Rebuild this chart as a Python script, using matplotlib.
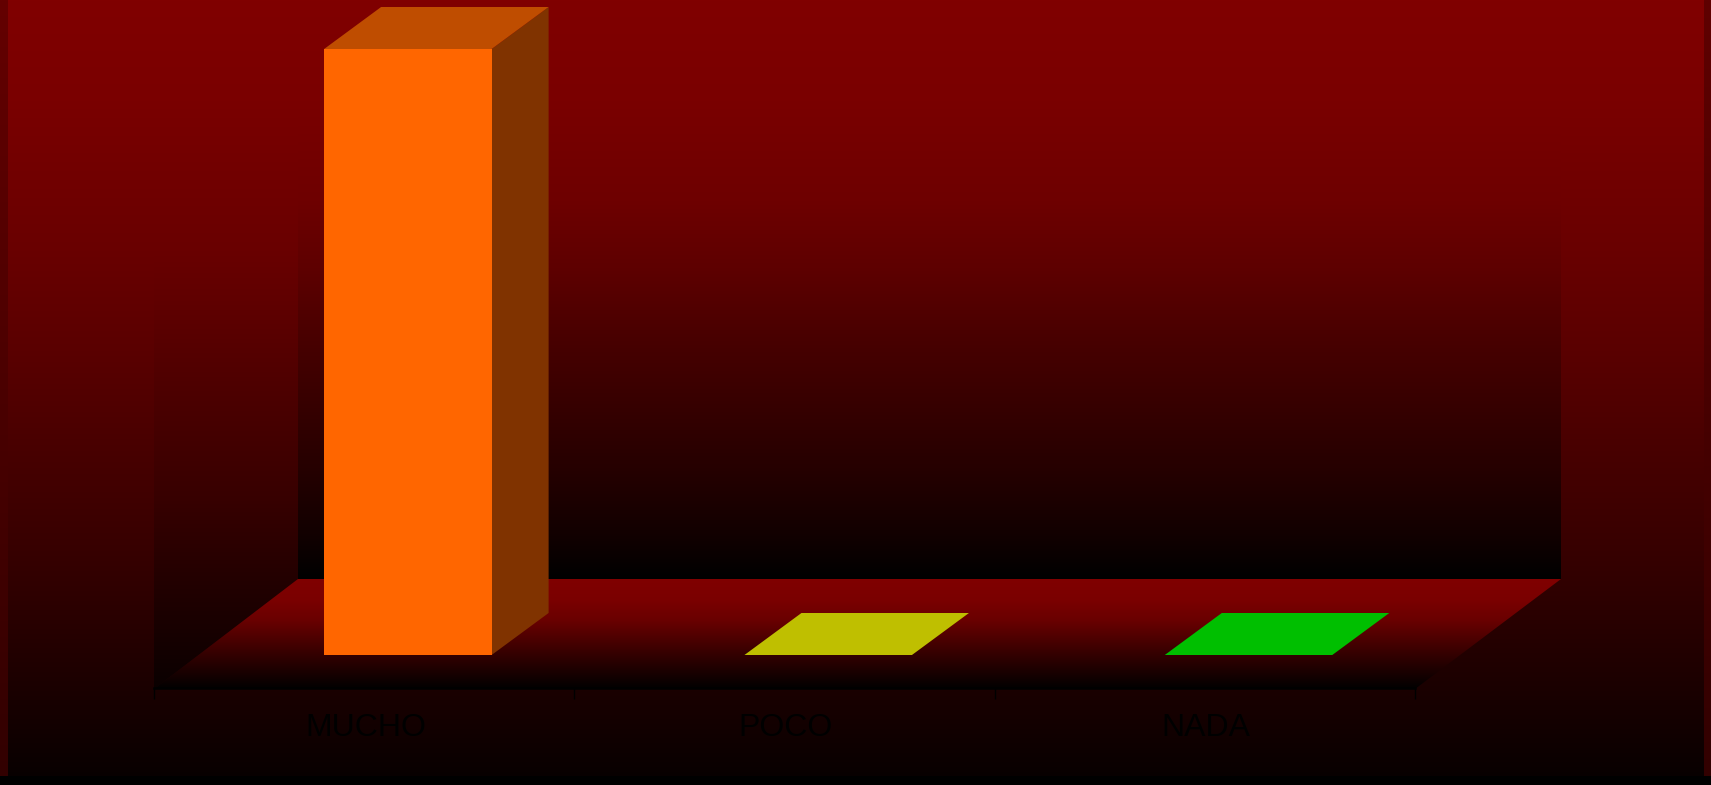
import matplotlib
matplotlib.use("Agg")
import matplotlib.pyplot as plt
import numpy as np
from matplotlib.patches import Polygon

plt.rcParams["font.family"] = ["Liberation Sans", "DejaVu Sans"]

# data
categories = ["MUCHO", "POCO", "NADA"]
values = [100, 0, 0]
front_colors = ["#FF6600", "#FFFF00", "#00FF00"]
top_colors = ["#BF4D00", "#BFBF00", "#00BF00"]
side_colors = ["#803300", "#808000", "#008000"]

W, H = 1711, 785

# plot box in pixels
x0, x1 = 154, 1415
floor_y = 689
depth_dx, depth_dy = 144, -110
back_right = 1561
val_scale = 6.06
bar_w = 167.5
bar_dx, bar_dy = 57, -42


def grad(ax, box, ys, levels, clip=None):
    # vertical red -> black gradient
    yy = np.arange(box[2], box[3])
    red = np.interp(yy, ys, levels) / 255.
    img = np.zeros((len(yy), 1, 3))
    img[:, 0, 0] = red
    im = ax.imshow(img, extent=(box[0], box[1], box[3], box[2]),
                   aspect="auto", interpolation="nearest", zorder=1)
    if clip is not None:
        p = Polygon(clip, transform=ax.transData, fc="none", ec="none")
        ax.add_patch(p)
        im.set_clip_path(p)
    return im


fig = plt.figure(figsize=(W / 100, H / 100), dpi=100)
ax = fig.add_axes([0, 0, 1, 1])
ax.axis("off")

# background, edge strips, walls, floor
back_y = floor_y + depth_dy
bg_y = [0, 100, 250, 350, 450, 550, 600, 776]
bg_r = [128, 122, 105, 90, 72, 55, 45, 8]
grad(ax, (0, 8, 0, H), [0, 776], [100, 50])
grad(ax, (1704, W, 0, H), [0, 776], [95, 50])
grad(ax, (8, 1704, 0, 776), bg_y, bg_r)
grad(ax, (x0, x0 + depth_dx, 100, floor_y),
     [100, 250, 300, 400, 500, 567, floor_y], [122, 105, 96, 75, 55, 38, 10],
     clip=[(x0, 100), (x0 + depth_dx, 100), (x0 + depth_dx, back_y), (x0, floor_y)])
grad(ax, (x0 + depth_dx, back_right, 0, back_y),
     [0, 100, 200, 267, 333, 400, 467, 533, back_y],
     [128, 122, 110, 94, 74, 56, 38, 18, 0])
grad(ax, (x0, back_right, back_y, floor_y),
     [back_y, 600, 620, 655, floor_y], [128, 122, 105, 50, 0],
     clip=[(x0, floor_y), (x0 + depth_dx, back_y), (back_right, back_y), (x1, floor_y)])

ax.set_xlim(0, W)
ax.set_ylim(H, 0)
ax.add_patch(Polygon([(0, 776), (W, 776), (W, H), (0, H)], fc="black", ec="none", zorder=1.5))

# bars
step = (x1 - x0) / len(categories)
for i, v in enumerate(values):
    left = x0 + i * step + (step - bar_w) / 2 + 0.3 * depth_dx + 0.5
    base = floor_y - 34
    top = base - v * val_scale
    right = left + bar_w
    if v > 0:
        ax.add_patch(Polygon([(right, base), (right + bar_dx, base + bar_dy),
                              (right + bar_dx, top + bar_dy), (right, top)],
                             fc=side_colors[i], ec="none", zorder=3))
        ax.add_patch(Polygon([(left, base), (right, base), (right, top), (left, top)],
                             fc=front_colors[i], ec="none", zorder=3))
    ax.add_patch(Polygon([(left, top), (right, top), (right + bar_dx, top + bar_dy),
                          (left + bar_dx, top + bar_dy)],
                         fc=top_colors[i], ec="none", zorder=3))

# category axis
cax = fig.add_axes([x0 / W, 1 - (floor_y - 1) / H, (x1 - x0) / W, 0.001])
cax.patch.set_alpha(0)
for s in ["top", "left", "right"]:
    cax.spines[s].set_visible(False)
cax.spines["bottom"].set_linewidth(1.8)
cax.spines["bottom"].set_color("black")
cax.set_xlim(0, len(categories))
cax.set_yticks([])
cax.set_xticks(np.arange(len(categories) + 1))
cax.set_xticklabels([])
cax.tick_params(axis="x", which="major", length=8, width=1, color="black")
cax.set_xticks(np.arange(len(categories)) + 0.503, minor=True)
cax.set_xticklabels(categories, minor=True, fontsize=23, color="black")
cax.tick_params(axis="x", which="minor", length=0, pad=18)

fig.savefig("out.png", dpi=100)
